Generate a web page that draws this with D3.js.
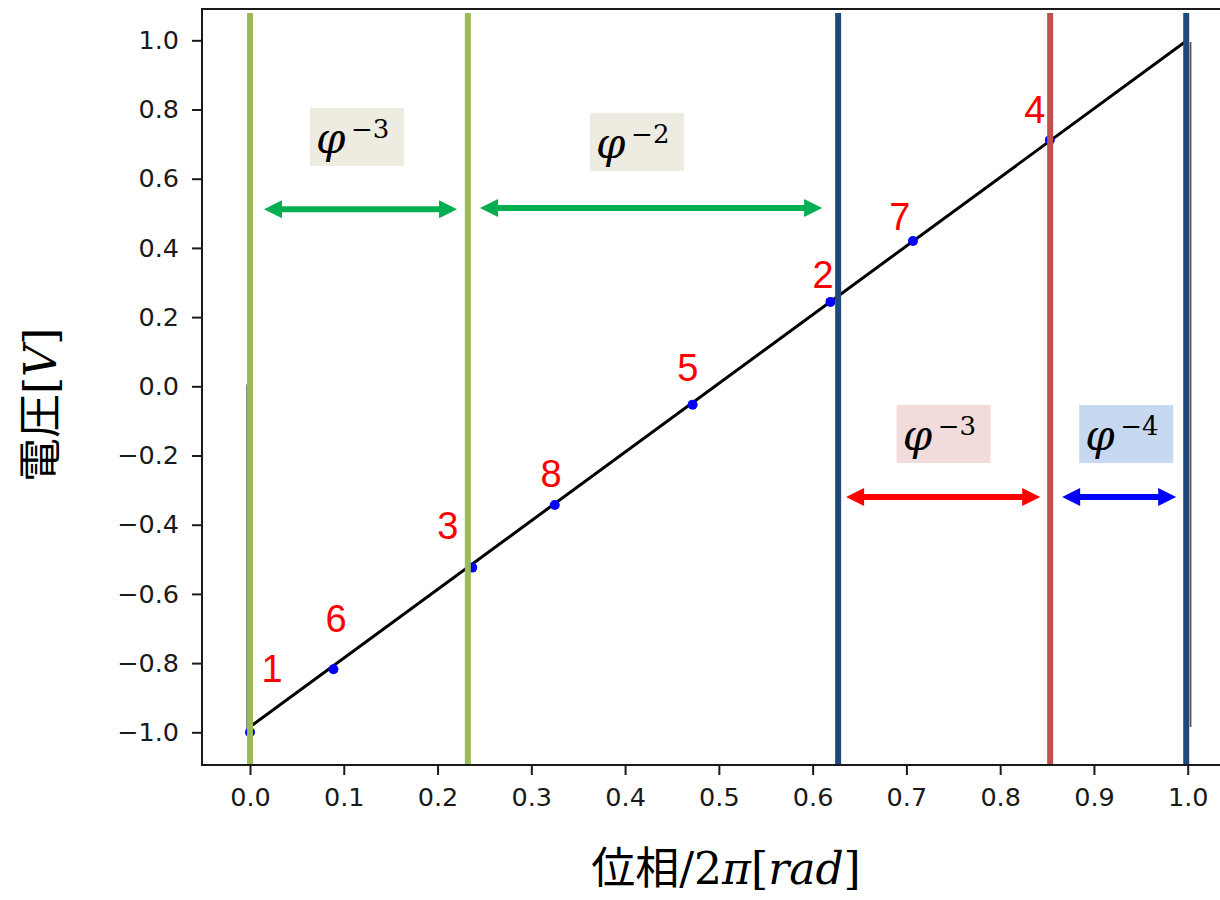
<!DOCTYPE html>
<html>
<head>
<meta charset="utf-8">
<script src="https://cdn.jsdelivr.net/npm/d3@7"></script>
<style>
  html, body { margin: 0; padding: 0; background: #fff; }
  svg { display: block; }
</style>
</head>
<body>
<svg id="chart" width="1220" height="900"></svg>
<script>
// ---------- data ----------
const xTicks = [0.0, 0.1, 0.2, 0.3, 0.4, 0.5, 0.6, 0.7, 0.8, 0.9, 1.0];
const yTicks = [-1.0, -0.8, -0.6, -0.4, -0.2, 0.0, 0.2, 0.4, 0.6, 0.8, 1.0];

// waveform (sawtooth) vertices
const waveX = [-0.003, -0.003, 0.997, 1.003, 1.003];
const waveY = [0.005, -0.99, 0.995, 0.995, -0.985];

// sampled points (label n = 1..8)
const pointLabels = ["1", "2", "3", "4", "5", "6", "7", "8"];
const pointPhase  = [0.000, 0.619, 0.237, 0.853, 0.472, 0.089, 0.707, 0.325];
const pointVolt   = [-1.000, 0.244, -0.524, 0.712, -0.053, -0.818, 0.420, -0.343];
// label anchor (phase, voltage)
const labelPhase  = [0.0235, 0.611, 0.211, 0.837, 0.467, 0.0917, 0.693, 0.321];
const labelVolt   = [-0.855, 0.285, -0.441, 0.762, 0.015, -0.710, 0.452, -0.291];

// vertical boundary bars
const barPhase = [0.000, 0.2323, 0.6272, 0.8533, 0.9984];
const barColor = ["#9bbb59", "#9bbb59", "#1f497d", "#c0504d", "#1f497d"];
const barTopV = 1.079;

// double arrows
const arrowX1 = [0.0149, 0.2453, 0.6357, 0.8661];
const arrowX2 = [0.2208, 0.6101, 0.8427, 0.9877];
const arrowV  = [0.512, 0.5153, -0.320, -0.320];
const arrowColor = ["#00b050", "#00b050", "#ff0000", "#0000ff"];

// φ^-n labels
const phiExp   = ["\u22123", "\u22122", "\u22123", "\u22124"];
const phiPhase = [0.1141, 0.4128, 0.7397, 0.9344];
const phiVolt  = [0.7205, 0.7061, -0.1379, -0.1379];
const phiFill  = ["#eeece1", "#eeece1", "#f2dcdb", "#c6d9f1"];

// ---------- chart ----------
const svg = d3.select("#chart");
const plotLeft = 202, plotBottom = 765, plotTop = 9;
const x = d3.scaleLinear().domain([-0.0512, 1.05]).range([plotLeft, 1234.6]);
const y = d3.scaleLinear().domain([-1.0945, 1.0905]).range([plotBottom, plotTop]);

const fmt = v => d3.format(".1f")(v).replace("-", "\u2212");

// axes
const gx = svg.append("g").attr("transform", `translate(0,${plotBottom})`)
  .call(d3.axisBottom(x).tickValues(xTicks).tickFormat(fmt).tickSize(10).tickPadding(13));
const gy = svg.append("g").attr("transform", `translate(${plotLeft},0)`)
  .call(d3.axisLeft(y).tickValues(yTicks).tickFormat(fmt).tickSize(10).tickPadding(13));
[gx, gy].forEach(g => {
  g.select(".domain").remove();
  g.selectAll(".tick line").attr("stroke", "#1a1a1a").attr("stroke-width", 2);
  g.selectAll(".tick text").attr("fill", "#1a1a1a")
    .style("font-family", "'DejaVu Sans', sans-serif").style("font-size", "25.5px");
});

// spines
svg.append("path")
  .attr("d", `M1220,${plotTop} H${plotLeft} V${plotBottom} H1220`)
  .attr("fill", "none").attr("stroke", "#1a1a1a").attr("stroke-width", 2);

// waveform
const wave = waveX.map((v, i) => [v, waveY[i]]);
const lineGen = d3.line().x(d => x(d[0])).y(d => y(d[1]));
svg.append("path")
  .attr("d", lineGen(wave.slice(1, 3)))
  .attr("fill", "none").attr("stroke", "#000").attr("stroke-width", 3);
[[0, 1], [3, 4]].forEach(([a, b]) => {
  svg.append("path")
    .attr("d", lineGen([wave[a], wave[b]]))
    .attr("fill", "none").attr("stroke", "#555").attr("stroke-width", 1.8);
});

// points
svg.append("g").selectAll("circle")
  .data(pointPhase.map((p, i) => [p, pointVolt[i]]))
  .join("circle")
  .attr("cx", d => x(d[0])).attr("cy", d => y(d[1])).attr("r", 5)
  .attr("fill", "#0000ff");

// vertical bars
svg.append("g").selectAll("line")
  .data(barPhase.map((p, i) => ({ p, c: barColor[i] })))
  .join("line")
  .attr("x1", d => x(d.p)).attr("x2", d => x(d.p))
  .attr("y1", y(barTopV)).attr("y2", plotBottom - 1)
  .attr("stroke", d => d.c).attr("stroke-width", 6);

// point labels
svg.append("g").selectAll("text")
  .data(pointLabels.map((t, i) => ({ t, px: labelPhase[i], v: labelVolt[i] })))
  .join("text")
  .attr("x", d => x(d.px)).attr("y", d => y(d.v))
  .attr("text-anchor", "middle")
  .attr("fill", "#ff0000")
  .style("font-family", "'Liberation Sans', Arial, sans-serif")
  .style("font-size", "38px")
  .text(d => d.t);

// double arrows
const head = 18, halfW = 9, shaft = 6;
arrowX1.forEach((a, i) => {
  const x1 = x(a), x2 = x(arrowX2[i]), yy = y(arrowV[i]);
  const s = shaft / 2;
  const d = `M${x1},${yy} L${x1 + head},${yy - halfW} L${x1 + head},${yy - s} L${x2 - head},${yy - s} ` +
            `L${x2 - head},${yy - halfW} L${x2},${yy} L${x2 - head},${yy + halfW} L${x2 - head},${yy + s} ` +
            `L${x1 + head},${yy + s} L${x1 + head},${yy + halfW} Z`;
  svg.append("path").attr("d", d).attr("fill", arrowColor[i]);
});

// φ labels
const boxW = 94, boxH = 58;
phiExp.forEach((e, i) => {
  const cx = x(phiPhase[i]), cy = y(phiVolt[i]);
  const bx = cx - boxW / 2, by = cy - boxH / 2;
  const g = svg.append("g");
  g.append("rect").attr("x", bx).attr("y", by).attr("width", boxW).attr("height", boxH)
    .attr("fill", phiFill[i]);
  g.append("text").attr("x", bx + 6).attr("y", by + 45)
    .style("font-family", "'DejaVu Serif', serif").style("font-style", "italic")
    .style("font-size", "42px").attr("fill", "#000").text("\u03c6");
  g.append("text").attr("x", bx + 41).attr("y", by + 30)
    .style("font-family", "'DejaVu Serif', serif")
    .style("font-size", "26px").attr("fill", "#000").text(e);
});

// axis titles
const xl = svg.append("text").attr("x", 726).attr("y", 884).attr("text-anchor", "middle")
  .attr("fill", "#000").style("font-size", "44px");
xl.append("tspan").style("font-family", "'Noto Sans CJK JP', sans-serif").text("位相");
xl.append("tspan").style("font-family", "'DejaVu Serif', serif").text("/2");
xl.append("tspan").style("font-family", "'DejaVu Serif', serif").style("font-style", "italic").text("\u03c0");
xl.append("tspan").style("font-family", "'DejaVu Serif', serif").text("[");
xl.append("tspan").style("font-family", "'DejaVu Serif', serif").style("font-style", "italic").text("rad");
xl.append("tspan").style("font-family", "'DejaVu Serif', serif").text("]");

const yl = svg.append("text").attr("transform", "translate(56,405) rotate(-90)")
  .attr("text-anchor", "middle").attr("fill", "#000").style("font-size", "44px");
yl.append("tspan").style("font-family", "'Noto Sans CJK JP', sans-serif").text("電圧");
yl.append("tspan").style("font-family", "'DejaVu Serif', serif").text("[");
yl.append("tspan").style("font-family", "'DejaVu Serif', serif").style("font-style", "italic").text("V");
yl.append("tspan").style("font-family", "'DejaVu Serif', serif").text("]");
</script>
</body>
</html>
